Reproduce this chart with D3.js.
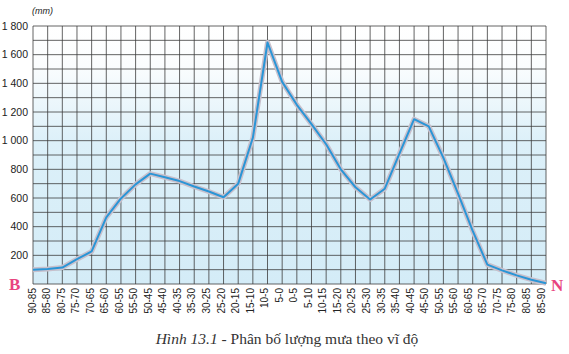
<!DOCTYPE html>
<html>
<head>
<meta charset="utf-8">
<script src="https://cdn.jsdelivr.net/npm/d3@7"></script>
<style>
  body { margin: 0; background: #fff; }
  svg { display: block; }
</style>
</head>
<body>
<div id="chart"></div>
<script>
// latitude bands, north pole to south pole
const bands = ["90-85", "85-80", "80-75", "75-70", "70-65", "65-60", "60-55", "55-50", "50-45",
    "45-40", "40-35", "35-30", "30-25", "25-20", "20-15", "15-10", "10-5", "5-0",
    "0-5", "5-10", "10-15", "15-20", "20-25", "25-30", "30-35", "35-40", "40-45",
    "45-50", "50-55", "55-60", "60-65", "65-70", "70-75", "75-80", "80-85", "85-90"];

// rainfall (mm)
const rainfall = [100, 105, 115, 173, 227, 465, 597, 695, 770,
    745, 718, 680, 645, 605, 700, 1020, 1685, 1410,
    1250, 1115, 975, 800, 675, 590, 665, 910, 1150,
    1100, 880, 630, 370, 135, 95, 60, 30, 5];

const yTicks = [200, 400, 600, 800, 1000, 1200, 1400, 1600, 1800];
const tickText = ["200", "400", "600", "800", "1 000", "1 200", "1 400", "1 600", "1 800"];

const width = 569, height = 354;
const svg = d3.select("#chart").append("svg")
    .attr("width", width)
    .attr("height", height);

const x = d3.scalePoint().domain(bands).range([33, 546]);
const xLab = d3.scalePoint().domain(bands).range([32, 541]);
const y = d3.scaleLinear().domain([0, 1800]).range([284, 26]);

// background wash: white at the top fading to light blue
const grad = svg.append("defs").append("linearGradient")
    .attr("id", "bg").attr("x1", 0).attr("x2", 0).attr("y1", 0).attr("y2", 1);
grad.append("stop").attr("offset", "0%").attr("stop-color", "#ffffff");
grad.append("stop").attr("offset", "15%").attr("stop-color", "#fbfdfe");
grad.append("stop").attr("offset", "45%").attr("stop-color", "#dcf0f9");
grad.append("stop").attr("offset", "100%").attr("stop-color", "#d4ecf7");

svg.append("rect")
    .attr("x", x.range()[0]).attr("y", y(1800))
    .attr("width", x.range()[1] - x.range()[0])
    .attr("height", y(0) - y(1800))
    .attr("fill", "url(#bg)");

// grid
const grid = svg.append("g").attr("stroke", "#3c3c3c").attr("stroke-width", 0.8);
grid.selectAll(".h")
    .data(d3.range(0, 1801, 100))
    .enter().append("line")
    .attr("x1", x.range()[0]).attr("x2", x.range()[1])
    .attr("y1", d => y(d)).attr("y2", d => y(d));
grid.selectAll(".v")
    .data(bands)
    .enter().append("line")
    .attr("x1", d => x(d)).attr("x2", d => x(d))
    .attr("y1", y(0)).attr("y2", y(1800));

// y labels
svg.append("g").selectAll("text")
    .data(yTicks)
    .enter().append("text")
    .attr("x", 28)
    .attr("y", d => y(d))
    .attr("dy", "0.35em")
    .attr("text-anchor", "end")
    .attr("font-family", "Liberation Sans, Arial, sans-serif")
    .attr("font-size", 10.5)
    .attr("fill", "#222")
    .text((d, i) => tickText[i]);

svg.append("text")
    .attr("x", 32).attr("y", 14)
    .attr("font-family", "Liberation Sans, Arial, sans-serif")
    .attr("font-style", "italic")
    .attr("font-size", 9)
    .attr("fill", "#222")
    .text("(mm)");

// x labels, rotated
svg.append("g").selectAll("text")
    .data(bands)
    .enter().append("text")
    .attr("transform", d => `translate(${xLab(d)},288) rotate(-90)`)
    .attr("dy", "0.35em")
    .attr("text-anchor", "end")
    .attr("font-family", "Liberation Sans, Arial, sans-serif")
    .attr("font-size", 10)
    .attr("fill", "#222")
    .text(d => d);

// rainfall line: pale halo under a blue stroke
const line = d3.line()
    .x((d, i) => x(bands[i]))
    .y(d => y(d));

svg.append("path")
    .datum(rainfall)
    .attr("d", line)
    .attr("fill", "none")
    .attr("stroke", "#c8c0cc")
    .attr("stroke-width", 5)
    .attr("stroke-linejoin", "round");

svg.append("path")
    .datum(rainfall)
    .attr("d", line)
    .attr("fill", "none")
    .attr("stroke", "#2a95d6")
    .attr("stroke-width", 2)
    .attr("stroke-linejoin", "round");

// pole markers
svg.append("text")
    .attr("x", 9).attr("y", 290)
    .attr("font-family", "Liberation Serif, serif")
    .attr("font-weight", "bold")
    .attr("font-size", 17)
    .attr("fill", "#e8457f")
    .text("B");

svg.append("text")
    .attr("x", 551).attr("y", 291)
    .attr("font-family", "Liberation Serif, serif")
    .attr("font-weight", "bold")
    .attr("font-size", 17)
    .attr("fill", "#e8457f")
    .text("N");

// caption
const cap = svg.append("text")
    .attr("x", 287).attr("y", 344)
    .attr("text-anchor", "middle")
    .attr("font-family", "Liberation Serif, serif")
    .attr("font-size", 15.5)
    .attr("fill", "#333");
cap.append("tspan").attr("font-style", "italic").text("Hình 13.1");
cap.append("tspan").text(" - Phân bố lượng mưa theo vĩ độ");
</script>
</body>
</html>
